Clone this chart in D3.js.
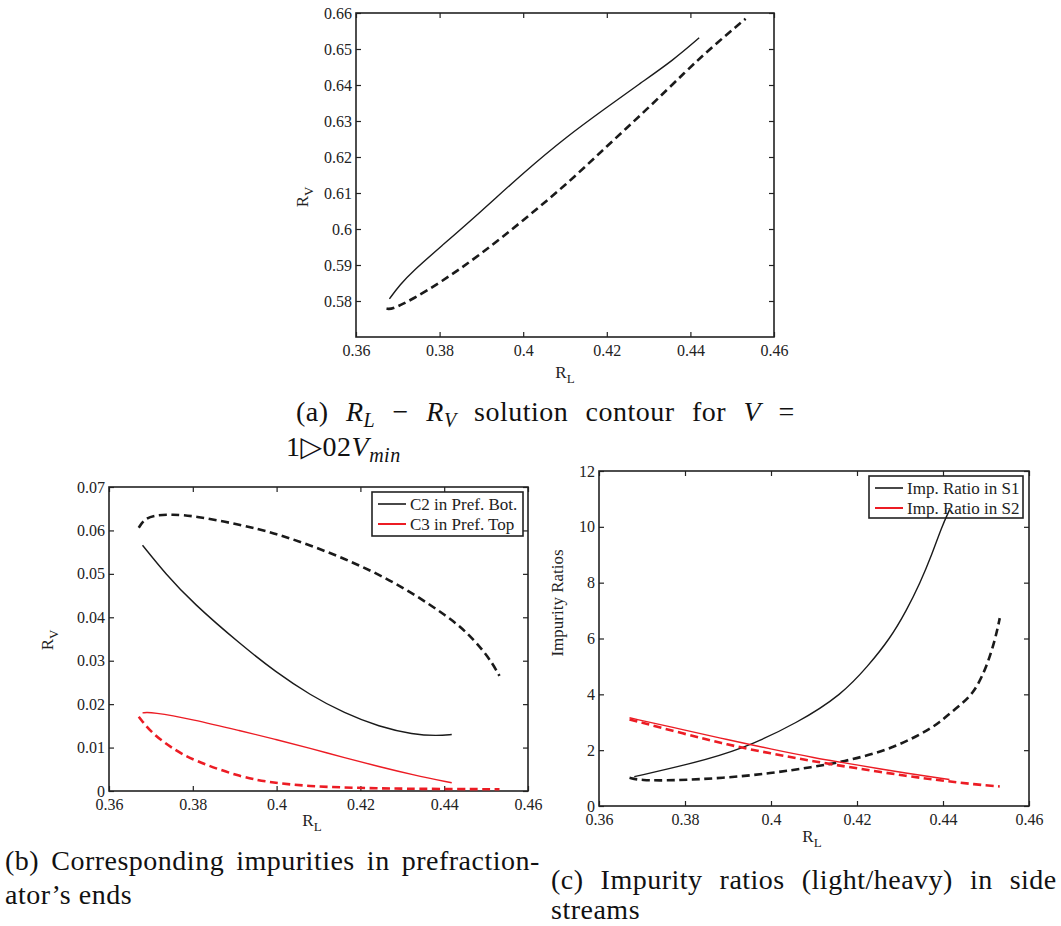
<!DOCTYPE html>
<html>
<head>
<meta charset="utf-8">
<script src="https://cdn.jsdelivr.net/npm/d3@7"></script>
<style>
  body { margin: 0; background: #fff; }
</style>
</head>
<body>
<svg id="fig" width="1061" height="926"></svg>
<script>
// shared x ticks (R_L)
var xTicks = [0.36, 0.38, 0.40, 0.42, 0.44, 0.46];

// panel (a): R_L - R_V contour
var aYTicks = [0.58, 0.59, 0.60, 0.61, 0.62, 0.63, 0.64, 0.65, 0.66];
var aSolid = [[0.368,0.5806],[0.3705,0.5845],[0.3737,0.5884],[0.38,0.5948],[0.3896,0.6045],[0.40,0.6156],
  [0.4104,0.6257],[0.42,0.6338],[0.4279,0.6404],[0.4359,0.6469],[0.4421,0.6531]];
var aDashed = [[0.3673,0.5779],[0.3685,0.5776],[0.3737,0.5806],[0.38,0.5850],[0.3896,0.5927],[0.40,0.6024],
  [0.4104,0.6124],[0.42,0.623],[0.4295,0.6331],[0.439,0.6439],[0.4454,0.6508],[0.4532,0.6584]];

// panel (b): impurities in prefractionator ends
var bYTicks = [0, 0.01, 0.02, 0.03, 0.04, 0.05, 0.06, 0.07];
var bC2Solid = [[0.368,0.0566],[0.3735,0.0500],[0.38,0.0433],[0.3916,0.0336],[0.3998,0.0274],[0.408,0.0221],
  [0.4162,0.0179],[0.4244,0.0148],[0.4326,0.0130],[0.4384,0.0127],[0.4418,0.0130]];
var bC2Dashed = [[0.3671,0.0606],[0.3685,0.0627],[0.371,0.0635],[0.3751,0.0637],[0.38,0.0634],[0.3916,0.0613],
  [0.3998,0.0593],[0.408,0.0566],[0.4162,0.0535],[0.4244,0.0499],[0.4326,0.0455],[0.4409,0.0401],
  [0.445,0.0369],[0.4491,0.0326],[0.4515,0.0294],[0.4532,0.0265]];
var bC3Solid = [[0.368,0.0180],[0.3702,0.0182],[0.38,0.0165],[0.3916,0.0138],[0.3998,0.0119],[0.408,0.0098],
  [0.4162,0.0077],[0.4244,0.0056],[0.4326,0.0037],[0.4418,0.0019]];
var bC3Dashed = [[0.3671,0.0171],[0.3702,0.0133],[0.3751,0.0098],[0.38,0.0071],[0.3916,0.0031],[0.3998,0.0018],
  [0.408,0.0011],[0.4162,0.0008],[0.4244,0.0006],[0.4326,0.0005],[0.4532,0.0004]];

// panel (c): impurity ratios in side streams
var cYTicks = [0, 2, 4, 6, 8, 10, 12];
var cS1Solid = [[0.3682,1.05],[0.381,1.5],[0.3928,2.0],[0.4065,3.0],[0.4165,4.0],[0.4225,5.0],[0.4277,6.0],
  [0.4315,7.0],[0.4347,8.0],[0.4374,9.0],[0.4397,10.0],[0.4415,10.6]];
var cS1Dashed = [[0.3671,1.01],[0.3695,0.92],[0.3772,0.91],[0.3889,1.0],[0.40,1.17],[0.4098,1.4],[0.4164,1.57],
  [0.4273,2.0],[0.4355,2.62],[0.4393,3.0],[0.443,3.5],[0.4471,4.0],[0.4502,5.0],[0.4522,6.0],[0.4532,6.73]];
var cS2Solid = [[0.3671,3.16],[0.38,2.72],[0.3897,2.38],[0.40,2.04],[0.4098,1.73],[0.42,1.47],[0.4316,1.17],[0.4415,0.95]];
var cS2Dashed = [[0.3671,3.10],[0.38,2.58],[0.3897,2.2],[0.40,1.88],[0.4098,1.6],[0.42,1.35],[0.4316,1.07],
  [0.4415,0.88],[0.447,0.78],[0.4532,0.70]];

var BLACK = "#1a1a1a", RED = "#ec1c24";
var FONT = "'Liberation Serif', 'Times New Roman', Times, 'DejaVu Serif', serif";
var svg = d3.select("#fig");

function fmt(d) { return String(+d.toFixed(2)); }

function panel(box, yDomain, yTicks, yFmt) {
  var g = svg.append("g");
  var x = d3.scaleLinear().domain([0.36, 0.46]).range([box.left, box.right]);
  var y = d3.scaleLinear().domain(yDomain).range([box.bottom, box.top]);

  function style(a) {
    a.attr("font-family", null).attr("font-size", null);
    a.select(".domain").remove();
    a.selectAll("line").attr("stroke", "#222").attr("stroke-width", 1.2);
    a.selectAll("text").attr("fill", "#222").style("font-size", "16px");
  }
  g.append("g").attr("transform", "translate(0," + box.bottom + ")")
    .call(d3.axisBottom(x).tickValues(xTicks).tickFormat(fmt).tickSize(-5).tickPadding(8)).call(style);
  g.append("g").attr("transform", "translate(0," + box.top + ")")
    .call(d3.axisTop(x).tickValues(xTicks).tickFormat("").tickSize(-5)).call(style);
  g.append("g").attr("transform", "translate(" + box.left + ",0)")
    .call(d3.axisLeft(y).tickValues(yTicks).tickFormat(yFmt).tickSize(-5).tickPadding(4)).call(style);
  g.append("g").attr("transform", "translate(" + box.right + ",0)")
    .call(d3.axisRight(y).tickValues(yTicks).tickFormat("").tickSize(-5)).call(style);

  g.append("rect").attr("x", box.left).attr("y", box.top)
    .attr("width", box.right - box.left).attr("height", box.bottom - box.top)
    .attr("fill", "none").attr("stroke", "#222").attr("stroke-width", 1.6);

  var line = d3.line().x(function(d) { return x(d[0]); }).y(function(d) { return y(d[1]); })
    .curve(d3.curveBasis);

  return {
    g: g, x: x, y: y,
    curve: function(data, color, dashed) {
      g.append("path").datum(data).attr("d", line).attr("fill", "none")
        .attr("stroke", color)
        .attr("stroke-width", dashed ? 2.6 : 1.4)
        .attr("stroke-dasharray", dashed ? "8,4.5" : null);
    }
  };
}

// subscript label like R_L
function subLabel(parent, x, y, main, sub, rotate, size) {
  size = size || 17;
  var t = parent.append("text").attr("fill", "#222").style("font-size", size + "px")
    .attr("text-anchor", "middle");
  if (rotate) t.attr("transform", "translate(" + x + "," + y + ") rotate(-90)");
  else t.attr("x", x).attr("y", y);
  t.append("tspan").text(main);
  t.append("tspan").attr("dy", 5).style("font-size", (size - 4) + "px").text(sub);
  return t;
}

function legend(parent, box, entries) {
  parent.append("rect").attr("x", box.x).attr("y", box.y).attr("width", box.w).attr("height", box.h)
    .attr("fill", "#fff").attr("stroke", "#222").attr("stroke-width", 1.6);
  entries.forEach(function(e, i) {
    var yy = box.y + box.row0 + i * box.step;
    parent.append("line").attr("x1", box.x + 6).attr("x2", box.x + 34).attr("y1", yy).attr("y2", yy)
      .attr("stroke", e.color).attr("stroke-width", e.color === RED ? 2 : 1.6);
    parent.append("text").attr("x", box.x + 38).attr("y", yy + 5.5).attr("fill", "#222")
      .style("font-size", "17px").text(e.label);
  });
}

// ---- panel (a)
var pa = panel({ left: 356, right: 774, top: 13, bottom: 337 }, [0.57, 0.66], aYTicks, fmt);
pa.curve(aSolid, BLACK, false);
pa.curve(aDashed, BLACK, true);
subLabel(svg, 308, 197, "R", "V", true);
subLabel(svg, 565, 378, "R", "L", false);

// ---- panel (b)
var pb = panel({ left: 109, right: 528, top: 487, bottom: 791 }, [0, 0.07], bYTicks, fmt);
pb.curve(bC2Solid, BLACK, false);
pb.curve(bC2Dashed, BLACK, true);
pb.curve(bC3Solid, RED, false);
pb.curve(bC3Dashed, RED, true);
legend(pb.g, { x: 372, y: 492, w: 151, h: 44, row0: 12, step: 20 },
  [{ label: "C2 in Pref. Bot.", color: BLACK }, { label: "C3 in Pref. Top", color: RED }]);
subLabel(svg, 53, 640, "R", "V", true);
subLabel(svg, 312, 826, "R", "L", false);

// ---- panel (c): legend first, the S1 curve runs over it
var pc = panel({ left: 599, right: 1029, top: 471, bottom: 806 }, [0, 12], cYTicks, d3.format("d"));
legend(pc.g, { x: 869, y: 476, w: 154, h: 42, row0: 12, step: 20 },
  [{ label: "Imp. Ratio in S1", color: BLACK }, { label: "Imp. Ratio in S2", color: RED }]);
pc.curve(cS1Solid, BLACK, false);
pc.curve(cS1Dashed, BLACK, true);
pc.curve(cS2Solid, RED, false);
pc.curve(cS2Dashed, RED, true);
svg.append("text").attr("transform", "translate(563,603) rotate(-90)").attr("text-anchor", "middle")
  .attr("fill", "#222").style("font-size", "17px").text("Impurity Ratios");
subLabel(svg, 812, 842, "R", "L", false);

// ---- captions (justified by word spacing)
function caption(x, y, parts, len) {
  var t = svg.append("text").attr("x", x).attr("y", y).attr("fill", "#111")
    .style("font-size", "28px").style("font-family", FONT).style("letter-spacing", "0.5px");
  parts.forEach(function(p) {
    var s = t.append("tspan").text(p.t);
    if (p.i) s.style("font-style", "italic");
    if (p.sub) s.attr("dy", 6).style("font-size", "20px");
    if (p.up) s.attr("dy", -6);
  });
  if (len) {
    var spaces = parts.map(function(p) { return p.t; }).join("").split(" ").length - 1;
    var ws = 0;
    for (var k = 0; k < 3; k++) {
      var w = t.node().getBBox().width;
      ws = Math.max(0, ws + (len - w) / spaces);
      t.style("word-spacing", ws + "px");
    }
  }
  return t;
}
svg.selectAll("text").style("font-family", FONT);
caption(296, 421, [{ t: "(a)  " }, { t: "R", i: 1 }, { t: "L", i: 1, sub: 1 }, { t: " − ", up: 1 },
  { t: "R", i: 1 }, { t: "V", i: 1, sub: 1 }, { t: " solution contour for ", up: 1 }, { t: "V", i: 1 }, { t: " =" }], 499);
caption(286, 456, [{ t: "1▷02" }, { t: "V", i: 1 }, { t: "min", i: 1, sub: 1 }]);
caption(5, 870, [{ t: "(b)  Corresponding impurities in prefraction-" }], 535);
caption(5, 904, [{ t: "ator’s ends" }]);
caption(551, 889, [{ t: "(c)  Impurity ratios (light/heavy) in side" }], 506);
caption(551, 919, [{ t: "streams" }]);
</script>
</body>
</html>
